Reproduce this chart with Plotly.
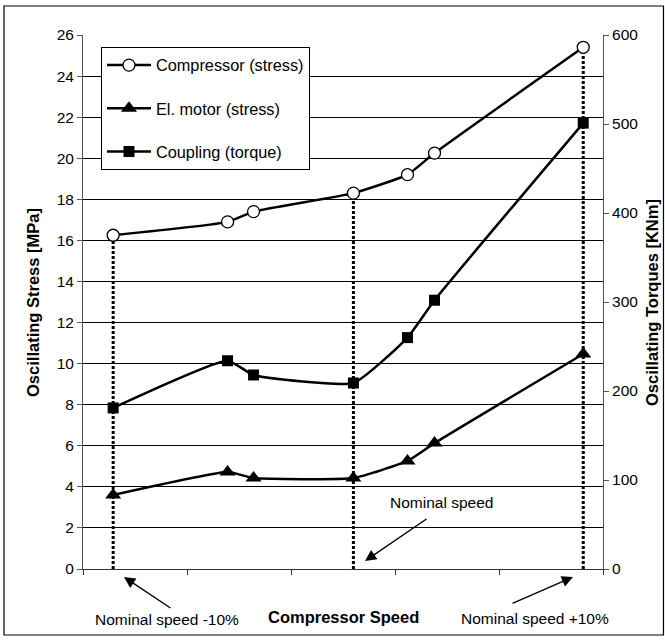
import plotly.graph_objects as go

# Compressor speed positions (axis units) and measured oscillation levels
speed = [0.29, 1.39, 1.64, 2.6, 3.12, 3.38, 4.81]
compressor_stress = [16.25, 16.9, 17.4, 18.3, 19.2, 20.25, 25.4]
motor_stress = [3.6, 4.72, 4.43, 4.43, 5.26, 6.13, 10.47]
coupling_torque = [181, 234, 218, 209, 260, 302, 501]

# Indices of the -10 %, nominal and +10 % operating points
marked_points = [0, 3, 6]

FONT = "Arial, Liberation Sans, sans-serif"
SMOOTH = 0.45

fig = go.Figure()

# Dotted drop lines at the three operating points
for i in marked_points:
    fig.add_trace(go.Scatter(
        x=[speed[i], speed[i]], y=[0, compressor_stress[i]],
        mode="lines", line=dict(color="black", width=3, dash="3px,2px"),
        showlegend=False, hoverinfo="skip"))

fig.add_trace(go.Scatter(
    x=speed, y=compressor_stress, name="Compressor (stress)",
    mode="lines+markers", line=dict(color="black", width=2.5, shape="spline", smoothing=SMOOTH),
    marker=dict(symbol="circle", size=12, color="white", line=dict(color="black", width=1.3)),
    legendgroup="a"))
fig.add_trace(go.Scatter(
    x=speed, y=motor_stress, name="El. motor (stress)",
    mode="lines+markers", line=dict(color="black", width=2.5, shape="spline", smoothing=SMOOTH),
    marker=dict(symbol="triangle-up", size=14, color="black"),
    legendgroup="b"))
fig.add_trace(go.Scatter(
    x=speed, y=coupling_torque, name="Coupling (torque)", yaxis="y2",
    mode="lines+markers", line=dict(color="black", width=2.5, shape="spline", smoothing=SMOOTH),
    marker=dict(symbol="square", size=11, color="black"),
    legendgroup="c"))

label = dict(xref="paper", yref="paper", xanchor="center", yanchor="middle", showarrow=False)
arrow = dict(text="", showarrow=True, arrowhead=2, arrowsize=1.6, arrowwidth=1.4,
             arrowcolor="black", xref="paper", yref="paper")

annotations = [
    dict(label, text="<b>Oscillating Stress [MPa]</b>", x=-0.0962, y=0.5,
         textangle=-90, font=dict(size=16.5)),
    dict(label, text="<b>Oscillating Torques [KNm]</b>", x=1.0942, y=0.5,
         textangle=-90, font=dict(size=16.5)),
    dict(label, text="<b>Compressor Speed</b>", x=0.501, y=-0.0899, font=dict(size=16.5)),
    dict(label, text="Nominal speed -10%", x=0.1606, y=-0.0955),
    dict(label, text="Nominal speed +10%", x=0.8692, y=-0.0918),
    dict(label, text="Nominal speed", x=0.6894, y=0.1236),
    # arrows pointing at the operating points
    dict(arrow, x=0.0788, y=-0.015, ax=48, ay=32),
    dict(arrow, x=0.5423, y=0.015, ax=63, ay=-43),
    dict(arrow, x=0.9423, y=-0.015, ax=-62, ay=27),
]

fig.update_layout(
    width=665, height=644,
    margin=dict(l=83, r=62, t=35, b=75),
    paper_bgcolor="white", plot_bgcolor="white",
    font=dict(family=FONT, size=15.5, color="black"),
    showlegend=True,
    legend=dict(x=0.0346, y=0.9775, xanchor="left", yanchor="top",
                bgcolor="white", bordercolor="black", borderwidth=1,
                font=dict(size=16.3), itemwidth=44, tracegroupgap=19,
                traceorder="grouped"),
    xaxis=dict(range=[0, 5], tickmode="linear", tick0=0, dtick=1,
               showticklabels=False, ticks="outside", ticklen=5, tickcolor="#333",
               showgrid=False, zeroline=False, showline=True, linecolor="#333", linewidth=1),
    yaxis=dict(range=[0, 26], tickmode="linear", tick0=0, dtick=2,
               ticks="outside", ticklen=5, tickcolor="#555",
               showgrid=True, gridcolor="black", gridwidth=1,
               zeroline=False, showline=True, linecolor="#555", linewidth=1),
    yaxis2=dict(range=[0, 600], tickmode="linear", tick0=0, dtick=100,
                overlaying="y", side="right", anchor="x",
                ticks="outside", ticklen=5, tickcolor="#555",
                showgrid=False, zeroline=False, showline=True, linecolor="#555", linewidth=1),
    annotations=annotations,
    shapes=[dict(type="rect", xref="paper", yref="paper",
                 x0=-0.1519, x1=1.1163, y0=-0.1236, y1=1.0543,
                 line=dict(color="black", width=1.2), layer="below")],
)

fig.write_html("out.html")
